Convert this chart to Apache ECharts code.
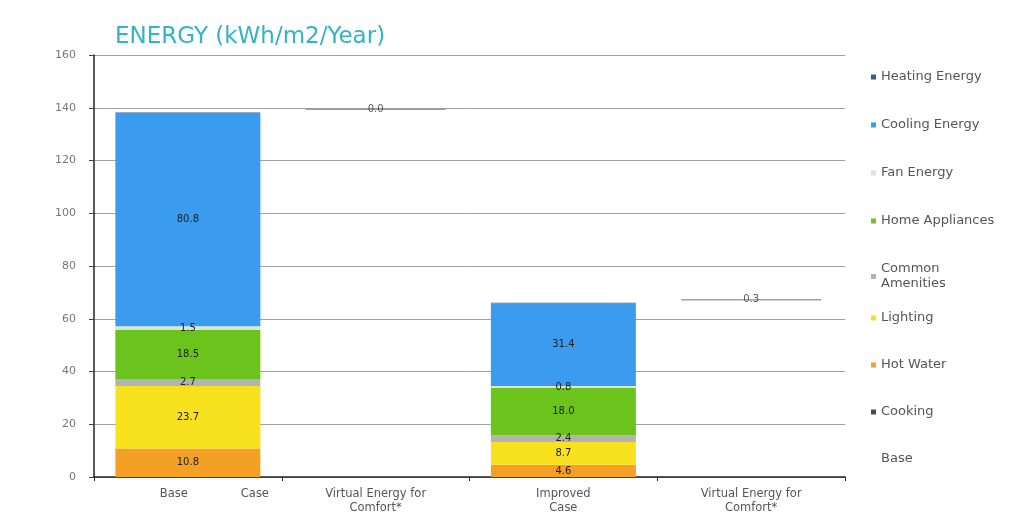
<!DOCTYPE html>
<html>
<head>
    <meta charset="UTF-8">
    <title>ENERGY (kWh/m2/Year)</title>
    <script src="https://cdn.jsdelivr.net/npm/echarts@6/dist/echarts.min.js"></script>
    <style>
        html, body { margin: 0; padding: 0; background: #fff; }
        #chartContainer { width: 1022px; height: 516px; }
    </style>
</head>
<body>
<div id="chartContainer"></div>
<script>
    // categories on the x axis
    var categories = ['Base Case', 'Virtual Energy for Comfort*', 'Improved Case', 'Virtual Energy for Comfort*'];

    // stacked components (bottom to top), null where a bar has no segment
    var cooking = [0.0, null, 0.0, null];
    var hotWater = [10.8, null, 4.6, null];
    var lighting = [23.7, null, 8.7, null];
    var amenities = [2.7, null, 2.4, null];
    var appliances = [18.5, null, 18.0, null];
    var fanEnergy = [1.5, null, 0.8, null];
    var cooling = [80.8, null, 31.4, null];
    var heating = [0.2, null, 0.2, null];

    // invisible offset under the virtual energy bars, and the virtual values
    var baseOffset = [null, 139.4, null, 66.9];
    var virtualEnergy = [null, 0.0, null, 0.3];

    var yTicks = [0, 20, 40, 60, 80, 100, 120, 140, 160];

    var colors = {
        heating: '#2a5d9a',
        cooling: '#3a9bef',
        fan: '#d9e4d2',
        appliances: '#6cc31c',
        amenities: '#b3b3b1',
        lighting: '#f8e21d',
        hotWater: '#f4a024',
        cooking: '#4a4a55'
    };

    var labelStyle = {
        show: true,
        position: 'inside',
        fontFamily: 'DejaVu Sans',
        fontSize: 10,
        color: '#222',
        formatter: function (p) {
            return p.value == null ? '' : p.value.toFixed(1);
        }
    };

    function stackBar(name, data, color, withLabel) {
        return {
            name: name,
            type: 'bar',
            stack: 'total',
            barWidth: 145,
            data: data,
            itemStyle: { color: color },
            label: withLabel ? labelStyle : { show: false }
        };
    }

    // line position for the virtual bars = offset + virtual value
    var virtualPoints = [];
    for (var i = 0; i < categories.length; i++) {
        if (baseOffset[i] == null) {
            virtualPoints.push(null);
        } else {
            virtualPoints.push({ value: baseOffset[i] + virtualEnergy[i], virtual: virtualEnergy[i] });
        }
    }

    var legendText = {
        fontFamily: 'DejaVu Sans',
        fontSize: 13,
        color: '#555',
        lineHeight: 15
    };

    var myChart = echarts.init(document.getElementById('chartContainer'));
    var option = {
        animation: false,
        title: {
            text: 'ENERGY (kWh/m2/Year)',
            left: 110,
            top: 21,
            textStyle: {
                fontFamily: 'DejaVu Sans',
                fontSize: 23,
                fontWeight: 'normal',
                color: '#33b3c7'
            }
        },
        legend: [{
            orient: 'vertical',
            left: 866,
            top: 64.5,
            itemWidth: 5,
            itemHeight: 5,
            itemGap: 33,
            icon: 'rect',
            textStyle: legendText,
            formatter: function (name) {
                return name === 'Common Amenities' ? 'Common\nAmenities' : name;
            },
            data: ['Heating Energy', 'Cooling Energy', 'Fan Energy', 'Home Appliances', 'Common Amenities']
        }, {
            orient: 'vertical',
            left: 866,
            top: 305.5,
            itemWidth: 5,
            itemHeight: 5,
            itemGap: 32,
            icon: 'rect',
            textStyle: legendText,
            data: ['Lighting', 'Hot Water', 'Cooking', 'Base']
        }],
        grid: {
            left: 94,
            right: 177,
            top: 55,
            bottom: 39
        },
        xAxis: {
            type: 'category',
            data: categories,
            axisLine: { lineStyle: { color: '#222', width: 1.5 } },
            axisTick: { show: true, length: 4, lineStyle: { color: '#222' } },
            axisLabel: {
                interval: 0,
                margin: 10,
                fontFamily: 'DejaVu Sans',
                fontSize: 11.5,
                lineHeight: 14,
                color: '#555',
                formatter: function (v) {
                    if (v === 'Base Case') return '{l|Base}{r|Case}';
                    if (v === 'Improved Case') return 'Improved\nCase';
                    return v.replace(' Comfort*', '\nComfort*');
                },
                rich: {
                    l: { width: 134, fontFamily: 'DejaVu Sans', fontSize: 11.5, color: '#555' },
                    r: { fontFamily: 'DejaVu Sans', fontSize: 11.5, color: '#555' }
                }
            }
        },
        yAxis: {
            type: 'value',
            min: yTicks[0],
            max: yTicks[yTicks.length - 1],
            interval: yTicks[1] - yTicks[0],
            axisLine: { show: true, lineStyle: { color: '#222', width: 1.5 } },
            axisTick: { show: true, length: 5, lineStyle: { color: '#444' } },
            axisLabel: {
                margin: 18,
                fontFamily: 'DejaVu Sans',
                fontSize: 11,
                color: '#777'
            },
            splitLine: { lineStyle: { color: '#a0a0a0', width: 1 } }
        },
        series: [
            {
                name: 'Base',
                type: 'bar',
                stack: 'total',
                barWidth: 145,
                data: baseOffset,
                itemStyle: { color: 'rgba(0,0,0,0)' },
                label: { show: false }
            },
            stackBar('Cooking', cooking, colors.cooking, false),
            stackBar('Hot Water', hotWater, colors.hotWater, true),
            stackBar('Lighting', lighting, colors.lighting, true),
            stackBar('Common Amenities', amenities, colors.amenities, true),
            stackBar('Home Appliances', appliances, colors.appliances, true),
            stackBar('Fan Energy', fanEnergy, colors.fan, true),
            stackBar('Cooling Energy', cooling, colors.cooling, true),
            stackBar('Heating Energy', heating, colors.heating, false),
            {
                name: 'Virtual',
                type: 'scatter',
                symbol: 'rect',
                symbolSize: [140, 1.5],
                itemStyle: { color: '#8a8a8a' },
                data: virtualPoints,
                label: {
                    show: true,
                    position: 'inside',
                    fontFamily: 'DejaVu Sans',
                    fontSize: 10,
                    color: '#333',
                    formatter: function (p) {
                        return p.data.virtual.toFixed(1);
                    }
                },
                z: 3
            }
        ]
    };
    myChart.setOption(option);
</script>
</body>
</html>
